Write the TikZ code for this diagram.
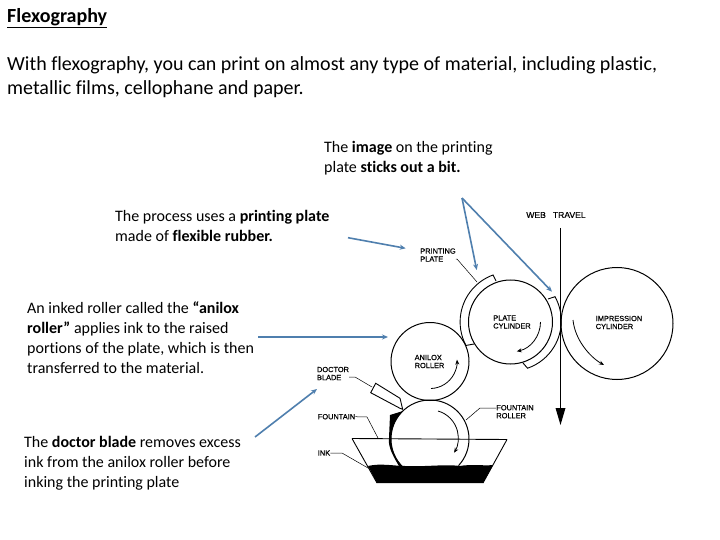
\documentclass[tikz,border=0pt]{standalone}
\usepackage{fontspec}
\setmainfont[Ligatures=NoCommon]{Carlito}
\newfontfamily\labelfont[FakeBold=0.4]{Liberation Sans}
\usetikzlibrary{arrows.meta}
\definecolor{callout}{HTML}{4F7FAE}
\tikzset{
  x=1pt,y=-1pt,
  caption/.style={anchor=north west,inner sep=0pt,align=left,font=\fontsize{16}{20}\selectfont},
  headline/.style={anchor=north west,inner sep=0pt,align=left,font=\fontsize{20}{24}\selectfont},
  tag/.style={inner sep=0pt,align=left,font=\labelfont\fontsize{7.4}{8}\selectfont},
  pointer/.style={draw=callout,line width=1.6pt,-{Stealth[length=6pt,width=5pt]}},
  roll/.style={circle,draw=black,line width=1pt,inner sep=0pt,minimum size=#1},
  leader/.style={draw=black,line width=0.5pt},
  spin/.style={draw=black,line width=0.8pt,-{Stealth[length=5pt,width=4pt]}},
  platepart/.style={draw=black,line width=0.9pt}
}
\begin{document}
\begin{tikzpicture}
\useasboundingbox (0,0) rectangle (720,540);
\fill[white] (0,0) rectangle (720,540);
% texts
\node[headline] (title) at (7,8) {\textbf{\underline{Flexography}}};
\node[headline] (intro) at (7,56.3) {With flexography, you can print on almost any type of material, including plastic,\\metallic films, cellophane and paper.};
\node[caption] (t1) at (324,141) {The \textbf{image} on the printing\\plate \textbf{sticks out a bit.}};
\node[caption] (t2) at (115,210) {The process uses a \textbf{printing plate}\\made of \textbf{flexible rubber.}};
\node[caption] (t3) at (27,301) {An inked roller called the \textbf{“anilox}\\\textbf{roller”} applies ink to the raised\\portions of the plate, which is then\\transferred to the material.};
\node[caption] (t4) at (24,436) {The \textbf{doctor blade} removes excess\\ink from the anilox roller before\\inking the printing plate};
% rollers
\node[roll=84pt] (plate) at (510.5,322) {};
\node[roll=112pt] (impr) at (617,323.5) {};
\node[roll=78pt] (anilox) at (430,361.5) {};
\coordinate (fc) at (430,439);
\draw[line width=1pt] (fc) ++(134:39) arc[start angle=134,end angle=403,radius=39];
% ink + tank
\draw[line width=0.9pt] (352,438.5) -- (507,439.5) (352,438.5) -- (377,483) (507,439.5) -- (483,483);
\fill[black] (368,466) .. controls (380,463) and (395,466) .. (405,466) .. controls (425,467) and (445,464) .. (460,466) .. controls (470,464) and (485,466) .. (493,465) -- (483,483) -- (377,483) -- cycle;
% fountain crescent
\fill[black] (fc) ++(225.7:39) arc[start angle=225.7,end angle=134,radius=39] -- (399,466) .. controls (391,453) and (388,445) .. (389,438) -- (390,415) -- cycle;
% doctor blade
\draw[line width=0.9pt,fill=white] (375.7,383.3) -- (370.7,392.7) -- (400,408.3) -- (402.7,409.3) -- (400,398.3) -- cycle;
% plates
\draw[platepart] (496,281) -- (493,275) arc[start angle=-110,end angle=-208,radius=50] -- (474,344);
\draw[platepart] (548,299) -- (555,296.7) arc[start angle=-29,end angle=71,radius=50] -- (523,363);
% web
\coordinate (webtop) at (560.5,228);
\coordinate (webend) at (560.5,425);
\draw[line width=1.8pt] (webtop) -- (560.5,412);
\fill (555.5,408) -- (565.5,408) -- (webend) -- cycle;
% spin arrows
\draw[spin] (540.5,322) arc[start angle=0,end angle=78,radius=30];
\draw[spin] (573,320) .. controls (575,340) and (590,357) .. (604,365);
\draw[spin] (431,388.5) arc[start angle=88,end angle=-4,radius=27];
\draw[spin] (438,411) arc[start angle=-74,end angle=32,radius=28];
% tags
\node[tag,font=\labelfont\fontsize{8.6}{9}\selectfont] (webtravel) at (556,215) {WEB\hspace{7pt}TRAVEL};
\node[tag] (printplate) at (438,255) {PRINTING\\PLATE};
\node[tag] (platelbl) at (512,322) {PLATE\\CYLINDER};
\node[tag] (imprlbl) at (619,322.5) {IMPRESSION\\CYLINDER};
\node[tag] (anlbl) at (429.5,361.5) {ANILOX\\ROLLER};
\node[tag] (doclbl) at (333,373.5) {DOCTOR\\BLADE};
\node[tag] (fontlbl) at (336.5,416.7) {FOUNTAIN};
\node[tag] (frlbl) at (515,411.7) {FOUNTAIN\\ROLLER};
\node[tag] (inklbl) at (324,453) {INK};
% leaders
\draw[leader] (printplate.east |- 0,259) -- (457,259) -- (477,282);
\draw[leader] (doclbl.east |- 0,377) -- (355,377) -- (372,387);
\draw[leader] (fontlbl.east) -- (367,417) -- (378,438);
\draw[leader] (inklbl.east) -- (342,453) -- (368,468);
\draw[leader] (frlbl.west |- 0,408) -- (480,408) -- (466,420);
% callouts
\coordinate (apex) at (462,198);
\coordinate (h1) at (476.7,270);
\coordinate (h2) at (552,291.7);
\coordinate (s2) at (348,237.7);
\coordinate (h3) at (405.7,248.3);
\coordinate (s3) at (258,337);
\coordinate (h4) at (388,337);
\coordinate (s4) at (255,437);
\coordinate (h5) at (317,389);
\draw[pointer] (apex) -- (h1);
\draw[pointer] (apex) -- (h2);
\draw[pointer] (s2) -- (h3);
\draw[pointer] (s3) -- (h4);
\draw[pointer] (s4) -- (h5);
\end{tikzpicture}
\end{document}
